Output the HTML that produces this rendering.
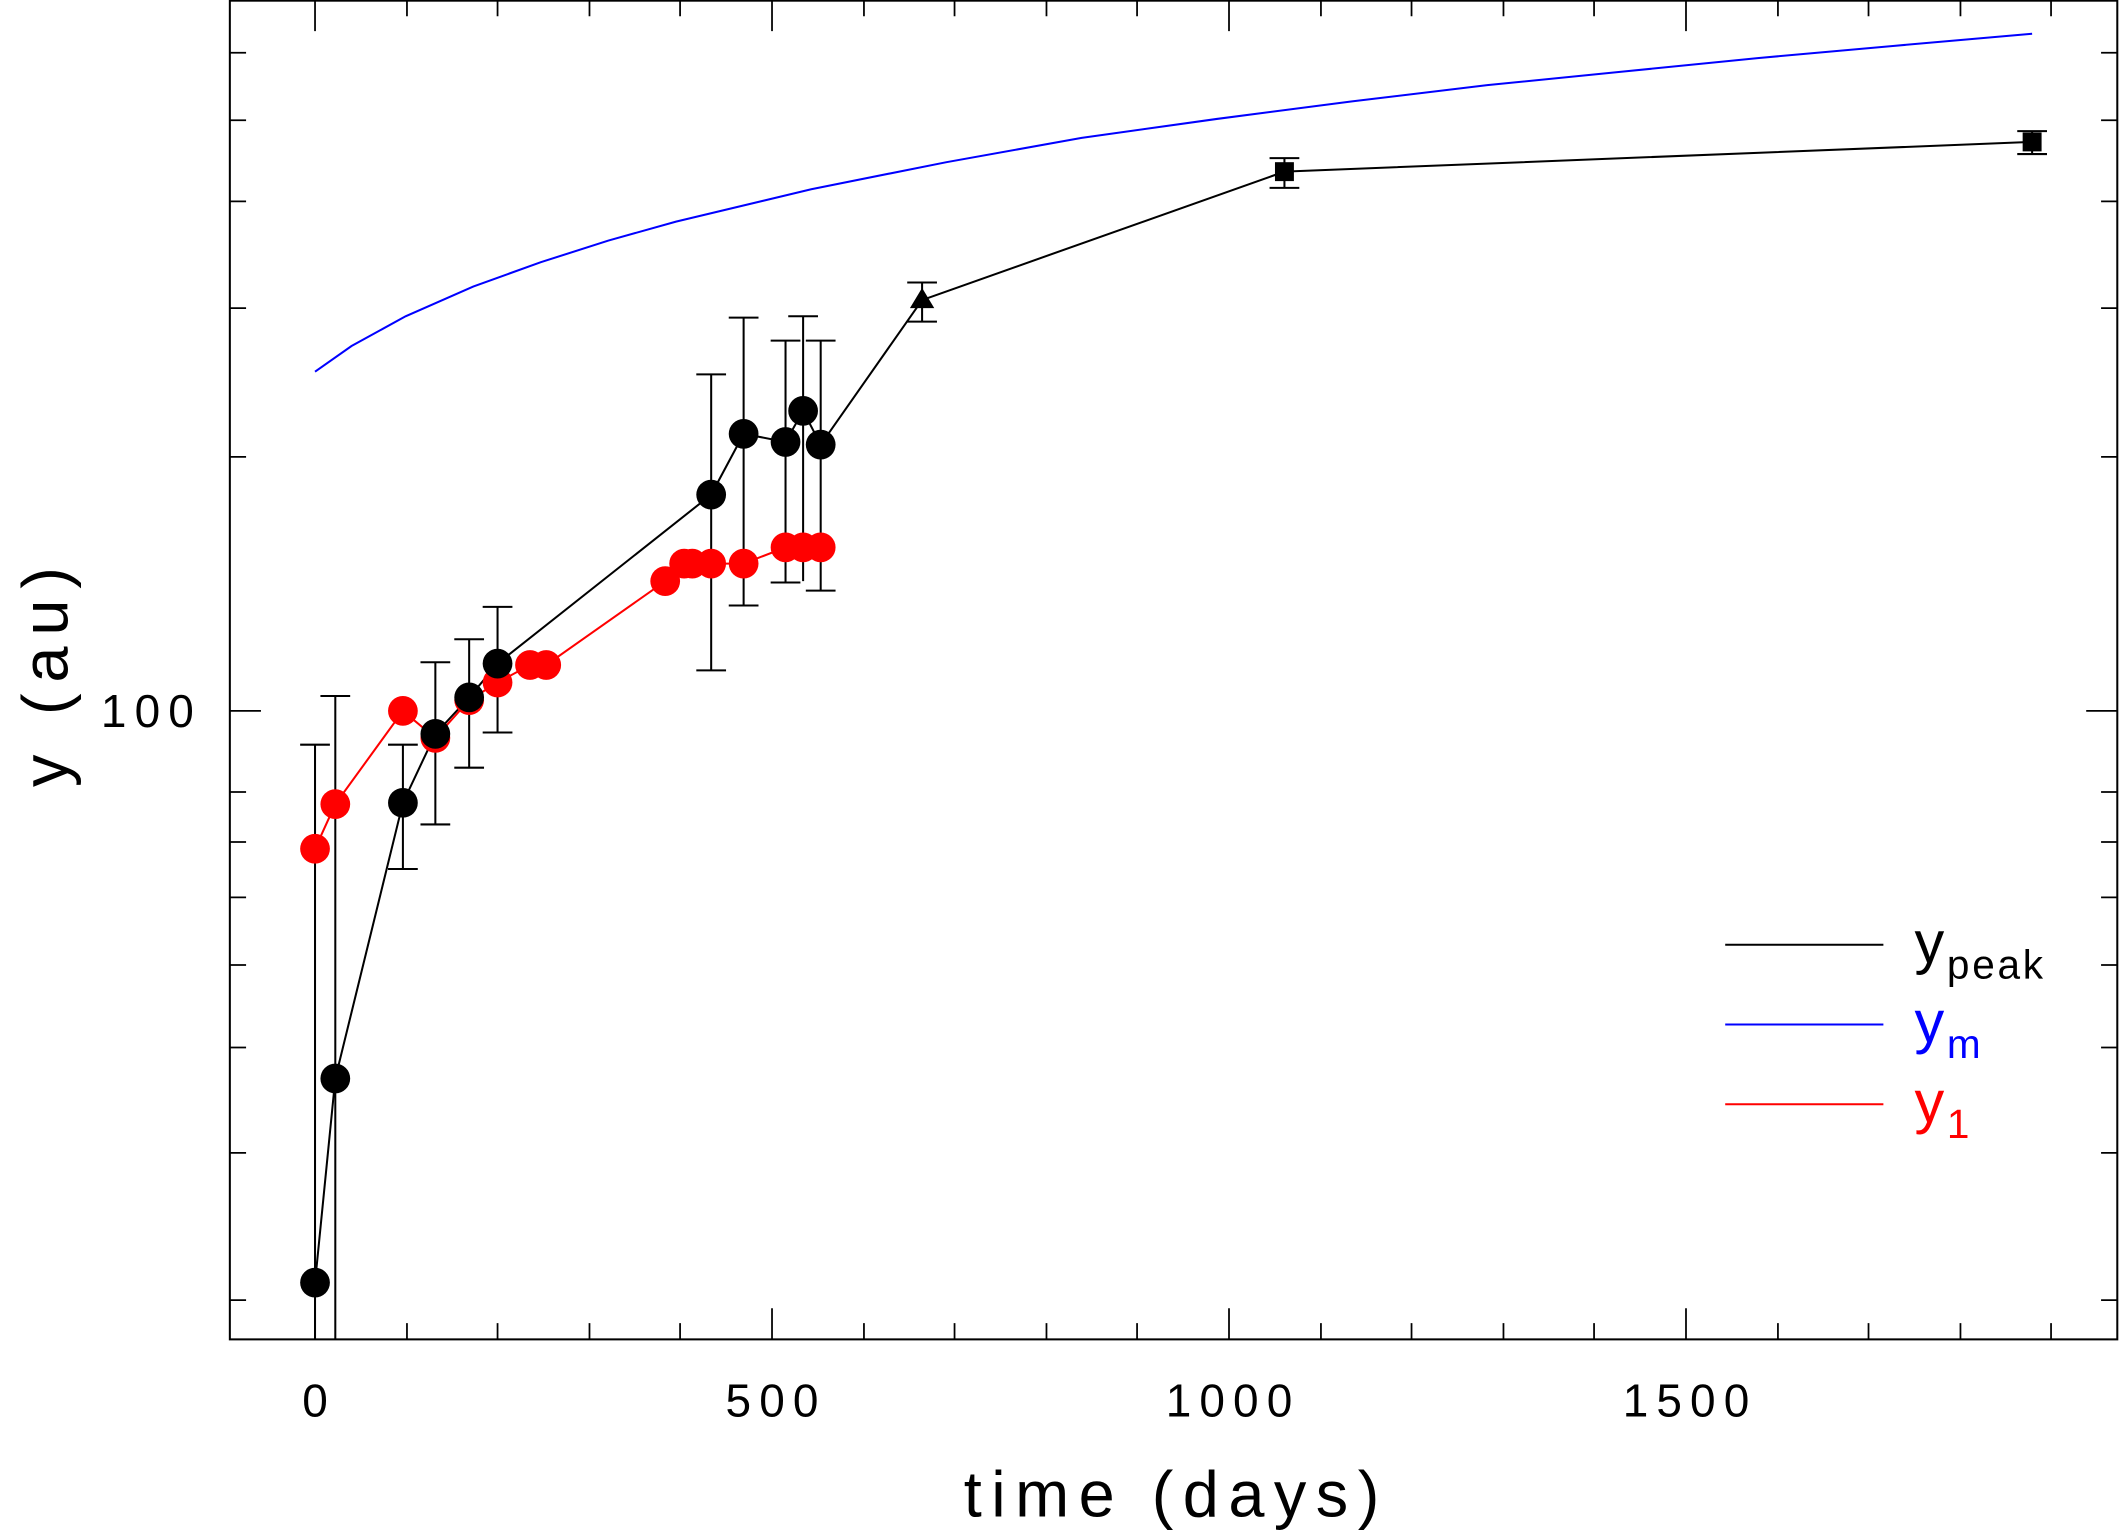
<!DOCTYPE html>
<html><head><style>html,body{margin:0;padding:0;background:#fff}svg{display:block}</style></head>
<body>
<svg width="2120" height="1534" viewBox="0 0 1568 1135" preserveAspectRatio="none" xmlns="http://www.w3.org/2000/svg" font-family="Liberation Sans, sans-serif">
<rect x="170" y="0.5" width="1396" height="990.5" fill="none" stroke="#000" stroke-width="1.5"/>
<g stroke="#000" stroke-width="1.3">
<path d="M233,991v-23M233,0v23M571,991v-23M571,0v23M909,991v-23M909,0v23M1247,991v-23M1247,0v23
M301,991v-12M301,0v12M368,991v-12M368,0v12M436,991v-12M436,0v12M503,991v-12M503,0v12
M639,991v-12M639,0v12M706,991v-12M706,0v12M774,991v-12M774,0v12M841,991v-12M841,0v12
M977,991v-12M977,0v12M1044,991v-12M1044,0v12M1112,991v-12M1112,0v12M1179,991v-12M1179,0v12
M1315,991v-12M1315,0v12M1382,991v-12M1382,0v12M1450,991v-12M1450,0v12M1517,991v-12M1517,0v12"/>
<path d="M170,526h23M1566,526h-23
M170,39h12M1566,39h-12M170,89h12M1566,89h-12M170,149h12M1566,149h-12M170,228h12M1566,228h-12M170,338h12M1566,338h-12
M170,586h12M1566,586h-12M170,623h12M1566,623h-12M170,664h12M1566,664h-12M170,714h12M1566,714h-12M170,775h12M1566,775h-12
M170,853h12M1566,853h-12M170,962h12M1566,962h-12"/>
</g>
<g font-size="34" text-anchor="middle" fill="#000" letter-spacing="6">
<text x="236" y="1048">0</text><text x="574" y="1048">500</text><text x="912" y="1048">1000</text><text x="1250" y="1048">1500</text>
<text x="112" y="538">100</text>
</g>
<text x="870" y="1122" font-size="48" text-anchor="middle" letter-spacing="7">time (days)</text>
<text transform="translate(50,497) rotate(-90)" font-size="48" text-anchor="middle" letter-spacing="8">y (au)</text>
<polyline points="233,275 260,256 300,234 350,212 400,194 450,178 500,164 600,140 700,120 800,102 900,88 1000,75 1100,63 1200,53 1300,43 1400,34 1503,25" fill="none" stroke="#0000ff" stroke-width="1.5"/>
<g stroke="#000" stroke-width="1.5" fill="none">
<path d="M233,551V991M222,551h22M248,515V991M237,515h22
M298,551V643M287,551h22M287,643h22
M322,490V610M311,490h22M311,610h22
M347,473V568M336,473h22M336,568h22
M368,449V542M357,449h22M357,542h22
M526,277V496M515,277h22M515,496h22
M550,235V448M539,235h22M539,448h22
M581,252V431M570,252h22M570,431h22
M594,234V430M583,234h22
M607,252V437M596,252h22M596,437h22
M682,209V238M671,209h22M671,238h22
M950,117V139M939,117h22M939,139h22
M1503,97V114M1492,97h22M1492,114h22"/>
</g>
<polyline points="233,949 248,798 298,594 322,543 347,516 368,491 526,366 550,321 581,327 594,304 607,329 682,222 950,127 1503,105" fill="none" stroke="#000" stroke-width="1.5"/>
<polyline points="233,628 248,595 298,526 322,546 347,518 368,505 392,492 404,492 492,430 506,417 512,417 526,417 550,417 581,405 594,405 607,405" fill="none" stroke="#ff0000" stroke-width="1.5"/>
<g fill="#ff0000">
<circle cx="233" cy="628" r="11"/><circle cx="248" cy="595" r="11"/><circle cx="298" cy="526" r="11"/><circle cx="322" cy="546" r="11"/><circle cx="347" cy="518" r="11"/><circle cx="368" cy="505" r="11"/><circle cx="392" cy="492" r="11"/><circle cx="404" cy="492" r="11"/><circle cx="492" cy="430" r="11"/><circle cx="506" cy="417" r="11"/><circle cx="512" cy="417" r="11"/><circle cx="526" cy="417" r="11"/><circle cx="550" cy="417" r="11"/><circle cx="581" cy="405" r="11"/><circle cx="594" cy="405" r="11"/><circle cx="607" cy="405" r="11"/>
</g>
<g fill="#000">
<circle cx="233" cy="949" r="11"/><circle cx="248" cy="798" r="11"/><circle cx="298" cy="594" r="11"/><circle cx="322" cy="543" r="11"/><circle cx="347" cy="516" r="11"/><circle cx="368" cy="491" r="11"/><circle cx="526" cy="366" r="11"/><circle cx="550" cy="321" r="11"/><circle cx="581" cy="327" r="11"/><circle cx="594" cy="304" r="11"/><circle cx="607" cy="329" r="11"/>
<polygon points="682,213 673,228 691,228"/>
<rect x="943" y="120" width="14" height="14"/><rect x="1496" y="98" width="14" height="14"/>
</g>
<g stroke-width="1.5">
<line x1="1276" y1="699" x2="1393" y2="699" stroke="#000"/>
<line x1="1276" y1="758" x2="1393" y2="758" stroke="#0000ff"/>
<line x1="1276" y1="817" x2="1393" y2="817" stroke="#ff0000"/>
</g>
<text x="1416" y="712" font-size="44" fill="#000" letter-spacing="2">y<tspan font-size="30" dy="12">peak</tspan></text>
<text x="1416" y="771" font-size="44" fill="#0000ff" letter-spacing="2">y<tspan font-size="30" dy="12">m</tspan></text>
<text x="1416" y="830" font-size="44" fill="#ff0000" letter-spacing="2">y<tspan font-size="30" dy="12">1</tspan></text>
</svg>
</body></html>
